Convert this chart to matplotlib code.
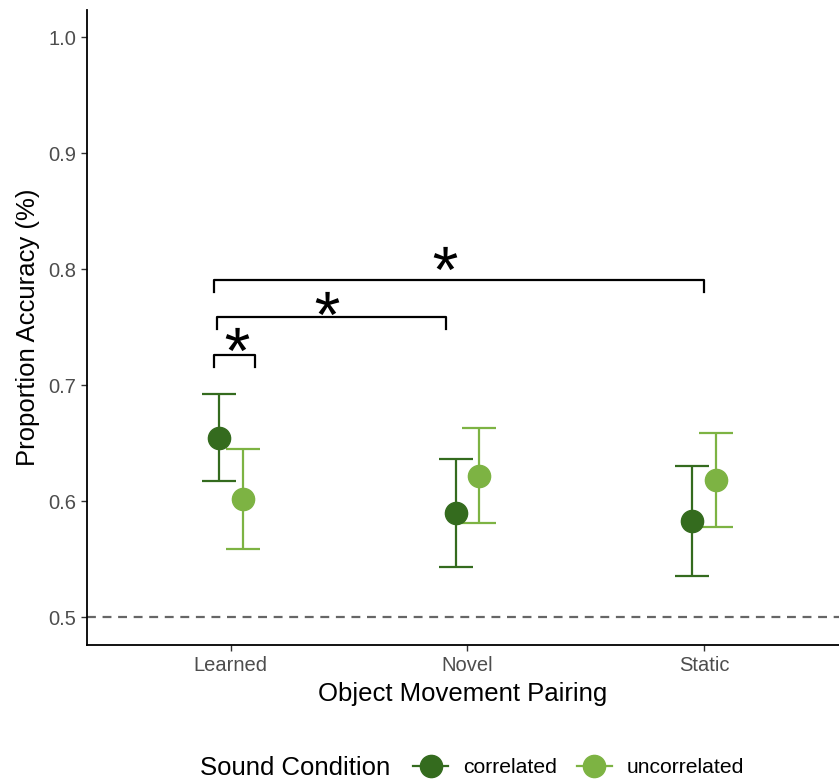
import numpy as np
import matplotlib.pyplot as plt
from matplotlib.lines import Line2D
from matplotlib.textpath import TextPath
from matplotlib.font_manager import FontProperties
from matplotlib.path import Path

plt.rcParams['font.family'] = ['Liberation Sans', 'DejaVu Sans']

# --- data ---
pairings = ['Learned', 'Novel', 'Static']
conditions = ['correlated', 'uncorrelated']
colors = ['#346B1E', '#7DB343']

means = {
    'correlated':   [0.654, 0.590, 0.583],
    'uncorrelated': [0.602, 0.622, 0.618],
}
lower = {
    'correlated':   [0.617, 0.543, 0.535],
    'uncorrelated': [0.559, 0.581, 0.578],
}
upper = {
    'correlated':   [0.692, 0.636, 0.630],
    'uncorrelated': [0.645, 0.663, 0.659],
}

# significance brackets: (start, end, height) and where their stars sit
brackets = [(0.93, 1.10, 0.726), (0.94, 1.91, 0.759), (0.93, 3.0, 0.791)]
star_x = [1.027, 1.405, 1.903]
star_y = [0.7397, 0.7707, 0.8095]
chance = 0.5


def star_marker():
    """Asterisk glyph as a path centred on the origin, usable as a marker."""
    tp = TextPath((0, 0), '*', prop=FontProperties(family='Liberation Sans'))
    v = tp.vertices.copy()
    codes = tp.codes
    real = codes != Path.CLOSEPOLY
    lo, hi = v[real].min(axis=0), v[real].max(axis=0)
    v -= (lo + hi) / 2
    v[~real] = 0  # closing vertices are ignored, keep them out of the scaling
    return Path(v, codes)


fig = plt.figure(figsize=(8.39, 7.8), dpi=100)
ax = fig.add_axes([0.1037, 0.1731, 0.8963, 0.8139])

x = np.arange(1, len(pairings) + 1)
dodge = [-0.05, 0.05]
for cond, col, d in zip(conditions, colors, dodge):
    m = np.array(means[cond])
    lo = m - np.array(lower[cond])
    hi = np.array(upper[cond]) - m
    ax.errorbar(x + d, m, yerr=[lo, hi], fmt='none', ecolor=col,
                elinewidth=1.6, capsize=12, capthick=1.6, zorder=2)
    ax.plot(x + d, m, 'o', color=col, markersize=16, zorder=3)

ax.axhline(chance, color='#666666', linestyle=(0, (4, 3)), linewidth=1.6, zorder=1)

tick_h = 0.0105
for x0, x1, h in brackets:
    ax.plot([x0, x0, x1, x1], [h - tick_h, h, h, h - tick_h], color='black',
            linewidth=1.6, solid_joinstyle='round', zorder=4)
ax.plot(star_x, star_y, linestyle='none', marker=star_marker(), markersize=17,
        color='black', markeredgewidth=0, zorder=5)

ax.set_xlim(0.392, 3.57)
ax.set_ylim(0.4759, 1.0233)
ax.set_xticks(x)
ax.set_xticklabels(pairings)
ax.set_yticks([0.5, 0.6, 0.7, 0.8, 0.9, 1.0])
ax.set_yticklabels(['0.5', '0.6', '0.7', '0.8', '0.9', '1.0'])
ax.tick_params(axis='both', labelsize=14.5, labelcolor='#4d4d4d', color='#333333',
               length=4, width=1, pad=4)
for s in ['top', 'right']:
    ax.spines[s].set_visible(False)
for s in ['left', 'bottom']:
    ax.spines[s].set_linewidth(1.3)

ax.set_xlabel('Object Movement Pairing', fontsize=18.5, labelpad=5)
ax.set_ylabel('Proportion Accuracy (%)', fontsize=18.5, labelpad=6)

handles = [Line2D([0], [0], color=c, marker='o', markersize=16, linewidth=1.6)
           for c in colors]
fig.text(0.238, 0.0154, 'Sound Condition', fontsize=18.5, ha='left', va='center')
fig.legend(handles, conditions, loc='center left', bbox_to_anchor=(0.48, 0.0154),
           ncol=2, frameon=False, fontsize=15.2, handlelength=1.65,
           columnspacing=0.95, handletextpad=0.7, borderpad=0.0)

fig.savefig('out.png', dpi=100)
